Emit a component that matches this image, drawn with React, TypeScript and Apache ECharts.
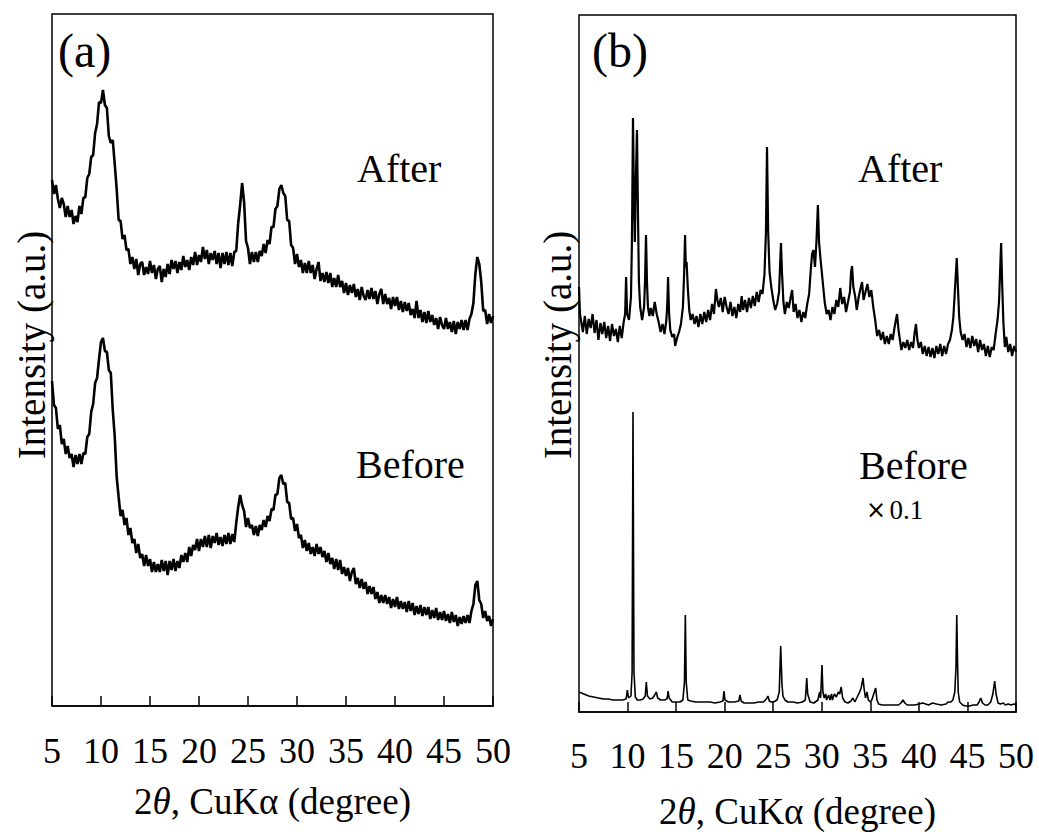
import React, { useEffect, useRef } from "react";
import * as echarts from "echarts";

// X tick labels (2θ, degrees)
const xTicks = [5, 10, 15, 20, 25, 30, 35, 40, 45, 50];

// Panel (a): scans recorded every 0.2° from 5° to 50°
const aStart = 5;
const aStep = 0.2;
const aAfter = [
  526, 512, 521, 507, 498, 508, 502, 489, 500, 489,
  496, 482, 490, 484, 500, 492, 508, 509, 528, 532,
  549, 551, 573, 582, 604, 603, 616, 601, 598, 570,
  563, 566, 542, 517, 486, 485, 467, 471, 456, 457,
  442, 449, 437, 447, 431, 442, 444, 431, 439, 432,
  445, 433, 441, 427, 437, 440, 424, 437, 429, 442,
  432, 446, 437, 445, 433, 444, 436, 450, 439, 446,
  436, 449, 441, 454, 441, 451, 444, 459, 447, 456,
  442, 453, 446, 455, 442, 453, 438, 453, 442, 454,
  441, 453, 440, 454, 455, 483, 501, 523, 504, 465,
  458, 442, 454, 444, 454, 444, 455, 450, 462, 453,
  466, 462, 479, 479, 497, 500, 517, 521, 513, 510,
  486, 485, 461, 458, 442, 452, 439, 446, 433, 443,
  433, 445, 433, 441, 427, 437, 444, 425, 433, 424,
  434, 423, 433, 419, 428, 419, 431, 419, 425, 413,
  423, 411, 421, 413, 422, 409, 417, 406, 419, 410,
  406, 416, 407, 418, 407, 415, 402, 412, 417, 402,
  412, 402, 408, 397, 409, 400, 409, 396, 405, 394,
  404, 395, 403, 391, 397, 388, 405, 388, 396, 384,
  394, 383, 395, 384, 391, 381, 388, 377, 389, 381,
  377, 388, 377, 384, 374, 385, 372, 384, 377, 386,
  376, 386, 376, 387, 392, 403, 432, 449, 442, 424,
  395, 396, 382, 392, 383, 390,
];
const aBefore = [
  325, 301, 298, 277, 281, 262, 267, 252, 260, 248,
  252, 239, 251, 242, 252, 242, 253, 252, 269, 272,
  294, 302, 323, 328, 347, 364, 368, 355, 354, 336,
  333, 296, 270, 229, 209, 190, 196, 181, 188, 171,
  178, 163, 167, 153, 162, 148, 152, 140, 151, 140,
  147, 134, 144, 134, 142, 134, 146, 135, 145, 131,
  145, 136, 147, 135, 145, 138, 151, 144, 153, 144,
  159, 150, 161, 156, 167, 155, 167, 159, 170, 159,
  171, 158, 170, 163, 173, 161, 169, 160, 171, 162,
  173, 162, 172, 164, 183, 199, 211, 201, 195, 179,
  188, 178, 181, 171, 180, 170, 181, 176, 186, 179,
  190, 185, 197, 196, 211, 212, 228, 231, 222, 223,
  204, 203, 187, 188, 175, 182, 168, 171, 158, 166,
  155, 163, 152, 159, 150, 162, 152, 159, 149, 155,
  144, 153, 142, 148, 137, 147, 136, 146, 132, 139,
  130, 138, 125, 134, 138, 122, 128, 118, 127, 117,
  124, 112, 120, 112, 119, 107, 114, 103, 111, 103,
  111, 102, 109, 98, 107, 99, 109, 97, 105, 97,
  104, 94, 105, 95, 103, 91, 100, 92, 101, 90,
  99, 91, 99, 87, 96, 88, 98, 86, 94, 86,
  95, 85, 92, 83, 94, 84, 91, 80, 89, 82,
  90, 83, 91, 83, 95, 102, 121, 125, 106, 102,
  88, 95, 85, 90, 80, 87,
];

// Panel (b): [2θ, intensity] points
const bAfter = [
  [5.0, 425], [5.1, 398], [5.2, 392], [5.4, 380], [5.6, 396], [5.8, 378], [6.0, 393], [6.2, 384],
  [6.4, 398], [6.6, 379], [6.8, 392], [7.0, 372], [7.2, 389], [7.4, 378], [7.6, 390], [7.8, 374],
  [8.0, 386], [8.2, 371], [8.4, 388], [8.6, 376], [8.8, 383], [9.0, 370], [9.2, 386], [9.4, 374],
  [9.6, 390], [9.75, 398], [9.85, 435], [9.95, 398], [10.15, 392], [10.35, 415], [10.45, 470],
  [10.56, 594], [10.65, 520], [10.75, 470], [10.85, 530], [10.97, 582], [11.07, 500], [11.17, 430],
  [11.3, 405], [11.5, 392], [11.7, 405], [11.8, 430], [11.9, 477], [12.0, 430], [12.1, 405],
  [12.25, 396], [12.4, 404], [12.6, 396], [12.8, 410], [13.0, 398], [13.2, 390], [13.4, 380],
  [13.6, 388], [13.8, 378], [14.0, 392], [14.1, 410], [14.17, 435], [14.27, 400], [14.4, 382],
  [14.6, 375], [14.8, 378], [14.9, 366], [15.1, 374], [15.3, 380], [15.5, 388], [15.7, 405],
  [15.83, 440], [15.92, 477], [16.0, 445], [16.08, 450], [16.2, 425], [16.35, 402], [16.5, 392],
  [16.7, 398], [16.9, 388], [17.1, 396], [17.3, 385], [17.5, 398], [17.7, 388], [17.9, 400],
  [18.1, 390], [18.3, 402], [18.5, 392], [18.7, 408], [18.9, 398], [19.1, 423], [19.25, 412],
  [19.4, 405], [19.6, 414], [19.8, 400], [20.0, 415], [20.2, 405], [20.4, 398], [20.6, 410],
  [20.8, 396], [21.0, 405], [21.2, 394], [21.4, 408], [21.6, 400], [21.75, 416], [21.9, 402],
  [22.1, 412], [22.3, 400], [22.5, 414], [22.7, 404], [22.9, 416], [23.1, 406], [23.3, 420],
  [23.5, 410], [23.7, 422], [23.9, 418], [24.1, 438], [24.25, 480], [24.36, 565], [24.48, 480],
  [24.62, 440], [24.8, 425], [25.0, 412], [25.2, 402], [25.4, 408], [25.6, 420], [25.72, 450],
  [25.8, 469], [25.9, 440], [26.05, 410], [26.2, 398], [26.4, 410], [26.6, 404], [26.8, 415],
  [26.95, 422], [27.1, 400], [27.3, 408], [27.5, 394], [27.7, 402], [27.9, 390], [28.1, 400],
  [28.3, 394], [28.5, 408], [28.7, 418], [28.85, 440], [29.0, 458], [29.15, 462], [29.3, 445],
  [29.45, 470], [29.6, 507], [29.72, 470], [29.85, 455], [30.0, 440], [30.15, 425], [30.3, 410],
  [30.5, 398], [30.7, 402], [30.9, 392], [31.1, 405], [31.3, 398], [31.5, 412], [31.7, 405],
  [31.9, 424], [32.1, 408], [32.3, 415], [32.5, 400], [32.7, 410], [32.9, 420], [33.02, 440],
  [33.12, 446], [33.25, 425], [33.45, 415], [33.6, 402], [33.8, 415], [34.0, 424], [34.15, 430],
  [34.3, 412], [34.5, 420], [34.7, 428], [34.9, 415], [35.1, 422], [35.3, 405], [35.5, 392],
  [35.7, 376], [35.9, 382], [36.1, 372], [36.3, 380], [36.5, 368], [36.7, 376], [36.9, 368],
  [37.1, 378], [37.3, 372], [37.5, 385], [37.75, 398], [37.9, 382], [38.05, 372], [38.2, 362],
  [38.4, 370], [38.6, 364], [38.8, 372], [39.0, 362], [39.2, 370], [39.4, 364], [39.55, 378],
  [39.7, 388], [39.85, 372], [40.0, 364], [40.2, 370], [40.4, 358], [40.6, 366], [40.8, 356],
  [41.0, 365], [41.2, 355], [41.4, 364], [41.6, 354], [41.8, 366], [42.0, 358], [42.2, 368],
  [42.4, 356], [42.6, 366], [42.8, 358], [43.0, 368], [43.2, 372], [43.4, 382], [43.55, 395],
  [43.7, 420], [43.9, 454], [44.02, 425], [44.15, 395], [44.3, 380], [44.5, 372], [44.7, 378],
  [44.9, 365], [45.1, 374], [45.3, 364], [45.5, 376], [45.7, 366], [45.9, 373], [46.1, 360],
  [46.3, 372], [46.5, 362], [46.7, 368], [46.9, 356], [47.1, 366], [47.3, 355], [47.5, 365],
  [47.7, 362], [47.9, 378], [48.1, 392], [48.25, 410], [48.38, 445], [48.47, 469], [48.57, 430],
  [48.7, 390], [48.85, 365], [49.0, 375], [49.2, 360], [49.4, 368], [49.6, 356], [49.8, 366],
  [50.0, 360],
];
const bBefore = [
  [5.0, 20], [5.5, 18], [6.0, 16], [6.5, 15], [7.0, 14], [7.5, 13], [8.0, 13], [8.5, 12],
  [9.0, 12], [9.5, 12], [9.85, 13], [9.98, 22], [10.1, 14], [10.35, 16], [10.47, 40],
  [10.56, 300], [10.66, 40], [10.8, 15], [11.0, 12], [11.3, 12], [11.6, 13], [11.82, 16],
  [11.93, 30], [12.05, 16], [12.3, 13], [12.6, 14], [12.85, 18], [12.96, 20], [13.1, 14],
  [13.4, 12], [13.8, 12], [14.05, 13], [14.12, 16], [14.17, 21], [14.28, 14], [14.6, 10],
  [15.0, 10], [15.4, 10], [15.7, 12], [15.86, 30], [15.95, 97], [16.04, 30], [16.2, 12],
  [16.5, 11], [17.0, 10], [17.5, 10], [18.0, 10], [18.5, 10], [19.0, 9], [19.5, 10],
  [19.83, 11], [19.93, 21], [20.03, 12], [20.4, 10], [21.0, 10], [21.45, 11], [21.58, 17],
  [21.7, 11], [22.0, 9], [22.5, 9], [23.0, 9], [23.5, 10], [24.0, 10], [24.3, 13], [24.46, 16],
  [24.6, 11], [24.8, 10], [25.0, 10], [25.4, 12], [25.62, 20], [25.77, 66], [25.9, 28],
  [26.0, 16], [26.2, 12], [26.5, 10], [27.0, 10], [27.5, 9], [28.0, 10], [28.3, 12],
  [28.38, 22], [28.45, 34], [28.55, 18], [28.8, 10], [29.2, 9], [29.6, 12], [29.78, 20],
  [29.88, 14], [30.02, 47], [30.12, 20], [30.25, 14], [30.4, 18], [30.5, 12], [30.7, 17],
  [30.85, 12], [31.0, 18], [31.1, 12], [31.3, 18], [31.5, 15], [31.7, 20], [31.85, 18],
  [32.0, 25], [32.15, 14], [32.4, 10], [32.7, 9], [33.0, 11], [33.2, 14], [33.4, 10],
  [33.7, 16], [33.9, 20], [34.05, 24], [34.25, 34], [34.35, 24], [34.5, 14], [34.65, 20],
  [34.8, 12], [35.0, 10], [35.15, 12], [35.35, 18], [35.55, 24], [35.68, 12], [35.85, 8],
  [36.2, 7], [36.8, 7], [37.5, 7], [37.9, 7], [38.15, 9], [38.36, 12], [38.55, 9], [38.8, 7],
  [39.2, 7], [39.6, 7], [40.0, 8], [40.4, 9], [40.7, 8], [41.0, 7], [41.4, 9], [41.8, 8],
  [42.3, 7], [42.8, 8], [43.0, 10], [43.3, 10], [43.5, 12], [43.7, 20], [43.82, 45],
  [43.9, 97], [43.98, 50], [44.05, 20], [44.2, 10], [44.5, 7], [44.8, 6], [45.2, 6],
  [45.6, 7], [46.0, 7], [46.2, 10], [46.37, 14], [46.55, 9], [46.8, 7], [47.1, 7], [47.4, 10],
  [47.62, 18], [47.8, 31], [47.95, 18], [48.15, 9], [48.4, 8], [48.7, 9], [48.9, 7],
  [49.2, 8], [49.5, 7], [49.8, 8], [50.0, 7],
];

const FONT = "Liberation Serif";

function toPairs(values: number[], start: number, step: number) {
  return values.map((v, i) => [Math.round((start + i * step) * 100) / 100, v]);
}

export default function App() {
  const ref = useRef<HTMLDivElement>(null);
  useEffect(() => {
    if (!ref.current) return;
    const chart = echarts.init(ref.current, null, { renderer: "svg" });
    const xAxisBase = (gridIndex: number, gap: number, margin: number) => ({
      type: "value",
      gridIndex,
      min: xTicks[0],
      max: xTicks[xTicks.length - 1],
      interval: 5,
      splitLine: { show: false },
      axisLine: { show: true, lineStyle: { color: "#000", width: 1.5 } },
      axisTick: { show: true, inside: true, length: 10, lineStyle: { color: "#000", width: 1.5 } },
      axisLabel: {
        show: true,
        margin,
        color: "#000",
        fontFamily: FONT,
        fontSize: 36,
        showMinLabel: true,
        showMaxLabel: true,
        hideOverlap: false,
      },
      name: "2{i|θ}, CuKα (degree)",
      nameLocation: "middle",
      nameGap: gap,
      nameTextStyle: {
        color: "#000",
        fontFamily: FONT,
        fontSize: 37,
        rich: { i: { fontStyle: "italic", fontFamily: FONT, fontSize: 37, color: "#000" } },
      },
    });
    const yAxisBase = (gridIndex: number, max: number) => ({
      type: "value",
      gridIndex,
      min: 0,
      max,
      show: false,
      splitLine: { show: false },
    });
    const lineStyle = (w: number) => ({ color: "#000", width: w });
    chart.setOption({
      animation: false,
      backgroundColor: "#fff",
      grid: [
        { left: 52, top: 14, width: 441, height: 692, show: true, borderColor: "#000", borderWidth: 1.5, containLabel: false, outerBoundsMode: "none" },
        { left: 579, top: 15, width: 437, height: 697, show: true, borderColor: "#000", borderWidth: 1.5, containLabel: false, outerBoundsMode: "none" },
      ],
      xAxis: [xAxisBase(0, 77, 27), xAxisBase(1, 81, 26)],
      yAxis: [yAxisBase(0, 692), yAxisBase(1, 697)],
      series: [
        { name: "(a) After", type: "line", xAxisIndex: 0, yAxisIndex: 0, data: toPairs(aAfter, aStart, aStep), showSymbol: false, symbol: "none", lineStyle: lineStyle(2.6) },
        { name: "(a) Before", type: "line", xAxisIndex: 0, yAxisIndex: 0, data: toPairs(aBefore, aStart, aStep), showSymbol: false, symbol: "none", lineStyle: lineStyle(2.6) },
        { name: "(b) After", type: "line", xAxisIndex: 1, yAxisIndex: 1, data: bAfter, showSymbol: false, symbol: "none", lineStyle: lineStyle(2.2) },
        { name: "(b) Before", type: "line", xAxisIndex: 1, yAxisIndex: 1, data: bBefore, showSymbol: false, symbol: "none", lineStyle: lineStyle(1.6) },
      ],
      graphic: [
        { type: "text", left: 58, top: 26, style: { text: "(a)", font: `48px ${FONT}`, fill: "#000" } },
        { type: "text", left: 592, top: 26, style: { text: "(b)", font: `48px ${FONT}`, fill: "#000" } },
        { type: "text", x: 357, y: 168, style: { text: "After", font: `40px ${FONT}`, fill: "#000", align: "left", verticalAlign: "middle" } },
        { type: "text", x: 356, y: 464, style: { text: "Before", font: `40px ${FONT}`, fill: "#000", align: "left", verticalAlign: "middle" } },
        { type: "text", x: 858, y: 168, style: { text: "After", font: `40px ${FONT}`, fill: "#000", align: "left", verticalAlign: "middle" } },
        { type: "text", x: 859, y: 465, style: { text: "Before", font: `40px ${FONT}`, fill: "#000", align: "left", verticalAlign: "middle" } },
        {
          type: "text", x: 866, y: 510,
          style: {
            text: "{m|×} {n|0.1}", fill: "#000", align: "left", verticalAlign: "middle",
            rich: { m: { fontFamily: "DejaVu Sans", fontSize: 24, fill: "#000" }, n: { fontFamily: FONT, fontSize: 27, fill: "#000" } },
          },
        },
        { type: "text", x: 31, y: 345, rotation: Math.PI / 2, style: { text: "Intensity (a.u.)", font: `39px ${FONT}`, fill: "#000", align: "center", verticalAlign: "middle" } },
        { type: "text", x: 557, y: 345, rotation: Math.PI / 2, style: { text: "Intensity (a.u.)", font: `39px ${FONT}`, fill: "#000", align: "center", verticalAlign: "middle" } },
      ],
    });
    return () => chart.dispose();
  }, []);
  return <div ref={ref} style={{ position: "fixed", left: 0, top: 0, width: 1039, height: 832 }} />;
}
